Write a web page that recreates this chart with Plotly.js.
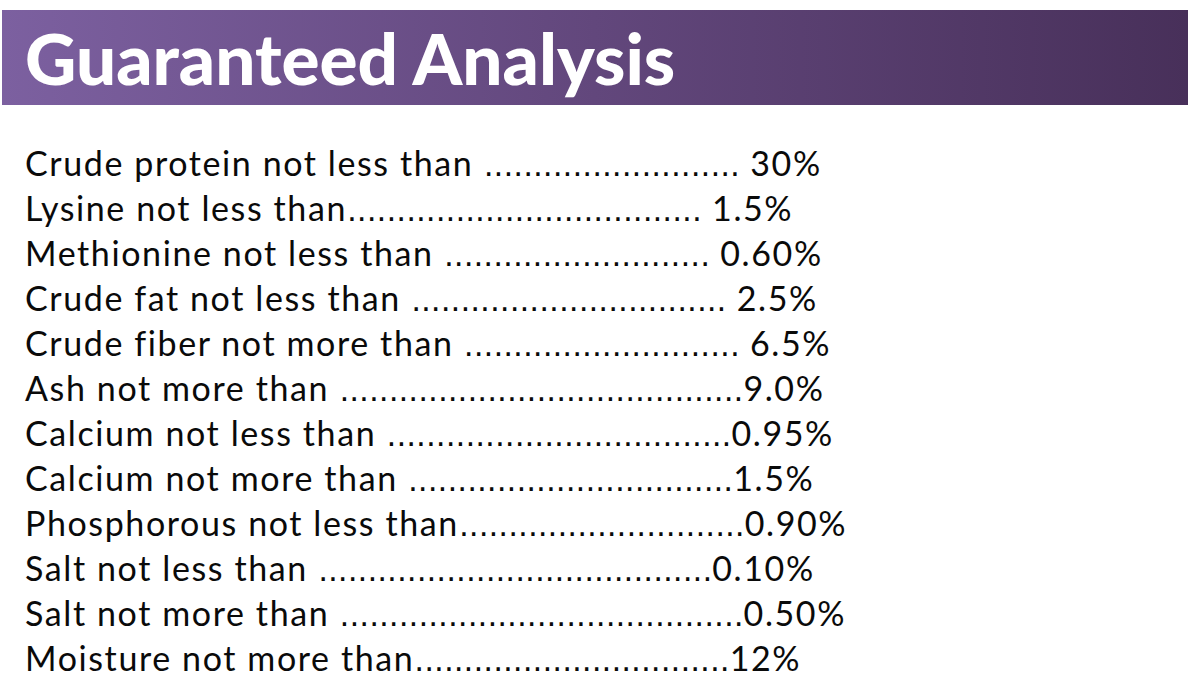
<!DOCTYPE html>
<html>
<head>
<meta charset="utf-8">
<script src="https://cdn.plot.ly/plotly-3.0.1.min.js"></script>
<style>html,body{margin:0;padding:0;background:#fff;}#chart{width:1194px;height:675px;}</style>
</head>
<body>
<div id="chart"></div>
<script>
const titleText = "Guaranteed Analysis";
const labels = ["Crude protein not less than", "Lysine not less than", "Methionine not less than",
  "Crude fat not less than", "Crude fiber not more than", "Ash not more than",
  "Calcium not less than", "Calcium not more than", "Phosphorous not less than",
  "Salt not less than", "Salt not more than", "Moisture not more than"];
const values = ["30%", "1.5%", "0.60%", "2.5%", "6.5%", "9.0%", "0.95%", "1.5%", "0.90%", "0.10%", "0.50%", "12%"];
const dotCounts = [26, 36, 27, 32, 28, 41, 35, 33, 29, 40, 41, 32];
const spaceBefore = [1, 0, 1, 1, 1, 1, 1, 1, 0, 1, 1, 0];
const spaceAfter = [1, 1, 1, 1, 1, 0, 0, 0, 0, 0, 0, 0];

const rowIdx = labels.map((_, i) => i);
const track = (s) => '<span style="letter-spacing:1.6px">' + s + '</span>';
const texts = labels.map((l, i) =>
  track(l + (spaceBefore[i] ? " " : "")) +
  '<span style="font-family:DejaVu Sans;font-size:31px">' + ".".repeat(dotCounts[i]) + "</span>" +
  track((spaceAfter[i] ? " " : "") + values[i]));

const rows = {
  type: "scatter", mode: "text", x: rowIdx.map(() => 0), y: rowIdx, text: texts,
  textposition: "middle right", cliponaxis: false, hoverinfo: "skip",
  textfont: {family: "Lato, 'Open Sans', sans-serif", size: 34, color: "#0a0a0a"},
  xaxis: "x", yaxis: "y", showlegend: false
};

// header banner (decoration) on pixel-unit axes
const banner = {
  type: "scatter", mode: "lines", x: [2, 1188, 1188, 2, 2], y: [10, 10, 105, 105, 10],
  fill: "toself", line: {width: 0, color: "rgba(0,0,0,0)"},
  fillgradient: {type: "horizontal", colorscale: [[0, "#7c60a0"], [0.5, "#62477c"], [1, "#48305a"]]},
  xaxis: "x2", yaxis: "y2", hoverinfo: "skip", showlegend: false
};

const layout = {
  width: 1194, height: 675,
  margin: {l: 0, r: 0, t: 0, b: 0},
  paper_bgcolor: "#ffffff", plot_bgcolor: "rgba(0,0,0,0)",
  xaxis: {range: [-25, 1169], visible: false, fixedrange: true},
  yaxis: {range: [11.267, -3.733], visible: false, fixedrange: true},
  xaxis2: {range: [0, 1194], visible: false, overlaying: "x", fixedrange: true},
  yaxis2: {range: [675, 0], visible: false, overlaying: "y", fixedrange: true},
  title: {text: titleText, x: 0, xref: "paper", xanchor: "left", y: 1 - 60 / 675, yref: "paper", yanchor: "middle",
    pad: {l: 25}, font: {family: "Lato, 'Open Sans', sans-serif", size: 71, color: "#ffffff", weight: 900}},
  showlegend: false
};

Plotly.newPlot("chart", [banner, rows], layout, {staticPlot: true, displayModeBar: false});
</script>
</body>
</html>
